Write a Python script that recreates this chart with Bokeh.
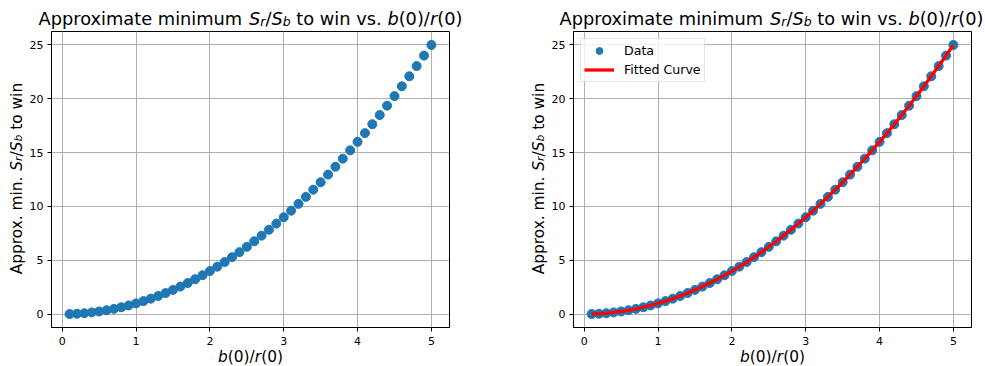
import math
from bokeh.plotting import figure
from bokeh.layouts import row, column
from bokeh.models import Range1d, Label, Legend
from bokeh.embed import file_html
from bokeh.resources import INLINE

# ---- data ----
ratio_x = [0.1, 0.2, 0.3, 0.4, 0.5, 0.6, 0.7, 0.8, 0.9, 1.0,
           1.1, 1.2, 1.3, 1.4, 1.5, 1.6, 1.7, 1.8, 1.9, 2.0,
           2.1, 2.2, 2.3, 2.4, 2.5, 2.6, 2.7, 2.8, 2.9, 3.0,
           3.1, 3.2, 3.3, 3.4, 3.5, 3.6, 3.7, 3.8, 3.9, 4.0,
           4.1, 4.2, 4.3, 4.4, 4.5, 4.6, 4.7, 4.8, 4.9, 5.0]
min_strength = [0.01, 0.04, 0.09, 0.16, 0.25, 0.36, 0.49, 0.64, 0.81, 1.00,
                1.21, 1.44, 1.69, 1.96, 2.25, 2.56, 2.89, 3.24, 3.61, 4.00,
                4.41, 4.84, 5.29, 5.76, 6.25, 6.76, 7.29, 7.84, 8.41, 9.00,
                9.61, 10.24, 10.89, 11.56, 12.25, 12.96, 13.69, 14.44, 15.21, 16.00,
                16.81, 17.64, 18.49, 19.36, 20.25, 21.16, 22.09, 23.04, 24.01, 25.00]
fitted_curve = [0.01, 0.04, 0.09, 0.16, 0.25, 0.36, 0.49, 0.64, 0.81, 1.00,
                1.21, 1.44, 1.69, 1.96, 2.25, 2.56, 2.89, 3.24, 3.61, 4.00,
                4.41, 4.84, 5.29, 5.76, 6.25, 6.76, 7.29, 7.84, 8.41, 9.00,
                9.61, 10.24, 10.89, 11.56, 12.25, 12.96, 13.69, 14.44, 15.21, 16.00,
                16.81, 17.64, 18.49, 19.36, 20.25, 21.16, 22.09, 23.04, 24.01, 25.00]
x_ticks = [0, 1, 2, 3, 4, 5]
y_ticks = [0, 5, 10, 15, 20, 25]

FONT = "DejaVu Sans"
BLUE = "#1f77b4"

# DejaVu Sans advance widths (units per em = 2048)
ADV = {' ': 651, '(': 799, ')': 799, '.': 651, '/': 690, '0': 1303,
       'A': 1401, 'S': 1300, 'a': 1255, 'b': 1300, 'e': 1260, 'i': 569,
       'm': 1995, 'n': 1298, 'o': 1253, 'p': 1300, 'r': 842, 's': 1067,
       't': 803, 'u': 1298, 'v': 1212, 'w': 1675, 'x': 1212}


def text_width(s, size):
    return sum(ADV.get(c, 1250) for c in s) / 2048.0 * size


def rich_text(p, segs, x, y, size, angle=0.0):
    """Draw (text, style, is_subscript) pieces centred on pixel position (x, y)."""
    widths = [text_width(t, size * (0.7 if sub else 1.0)) for t, st, sub in segs]
    pos = -sum(widths) / 2.0
    for (t, st, sub), w in zip(segs, widths):
        if t.strip():
            fs = size * 0.7 if sub else size
            drop = size * 0.16 if sub else 0.0
            if angle == 0:
                xo, yo = pos, -drop
            else:
                xo, yo = drop, pos
            p.add_layout(Label(x=x, y=y, x_offset=xo, y_offset=yo, text=t,
                               angle=angle, text_font=FONT, text_font_style=st,
                               text_font_size=f"{fs:.2f}px", text_align="left",
                               text_baseline="alphabetic", text_color="black"))
        pos += w


def text_fig(w, h):
    f = figure(width=w, height=h, output_backend="svg", toolbar_location=None,
               title=None, x_range=Range1d(0, w), y_range=Range1d(0, h),
               x_axis_location=None, y_axis_location=None, min_border=0)
    f.grid.visible = False
    f.outline_line_color = None
    f.background_fill_color = "white"
    f.border_fill_color = "white"
    return f


title_segs = [("Approximate minimum", "normal", False), (" ", "normal", False),
              ("S", "italic", False), ("r", "italic", True), ("/", "normal", False),
              ("S", "italic", False), ("b", "italic", True), (" ", "normal", False),
              ("to win vs.", "normal", False), (" ", "normal", False),
              ("b", "italic", False), ("(0)/", "normal", False),
              ("r", "italic", False), ("(0)", "normal", False)]
ylabel_segs = [("Approx. min.", "normal", False), (" ", "normal", False),
               ("S", "italic", False), ("r", "italic", True), ("/", "normal", False),
               ("S", "italic", False), ("b", "italic", True), (" ", "normal", False),
               ("to win", "normal", False)]
xlabel_segs = [("b", "italic", False), ("(0)/", "normal", False),
               ("r", "italic", False), ("(0)", "normal", False)]

x0, x1 = -0.145, 5.245
y0, y1 = -1.2395, 26.2495

TOP_H = 31
MID_H = 318  # height of the row holding the plots
BOT_H = 366 - TOP_H - MID_H


def make_fig(width, border_left, border_right):
    p = figure(width=width, height=MID_H, output_backend="svg", toolbar_location=None,
               title=None, x_range=Range1d(x0, x1), y_range=Range1d(y0, y1),
               min_border_left=border_left, min_border_right=border_right,
               min_border_top=0, min_border_bottom=MID_H - 296)
    p.background_fill_color = "white"
    p.border_fill_color = "white"
    p.outline_line_color = "black"
    p.outline_line_width = 1
    p.outline_line_alpha = 1.0
    for ax in (p.xaxis[0], p.yaxis[0]):
        ax.axis_line_color = "black"
        ax.axis_line_width = 1
        ax.major_tick_line_color = "black"
        ax.major_tick_in = 0
        ax.major_tick_out = 4
        ax.minor_tick_line_color = None
        ax.major_label_text_font = FONT
        ax.major_label_text_font_size = "11px"
        ax.major_label_text_color = "black"
        ax.axis_label = None
    p.xaxis.ticker = x_ticks
    p.yaxis.ticker = y_ticks
    p.xaxis.major_label_standoff = 5
    p.yaxis.major_label_standoff = 4
    p.grid.grid_line_color = "#b0b0b0"
    p.grid.grid_line_width = 1
    return p


# title row
title_row = text_fig(985, TOP_H)
rich_text(title_row, title_segs, 250, 13, 17.8)
rich_text(title_row, title_segs, 771, 13, 17.8)

# y-label strips (centred on the plot frames)
ylab_center = MID_H - (179 - TOP_H) - 10
ylab1 = text_fig(26, MID_H)
rich_text(ylab1, ylabel_segs, 16, ylab_center, 15.4, angle=math.pi / 2)
ylab2 = text_fig(28, MID_H)
rich_text(ylab2, ylabel_segs, 18, ylab_center, 15.4, angle=math.pi / 2)

# plots
p1 = make_fig(494, 25, 71)
p1.scatter(ratio_x, min_strength, size=9, fill_color=BLUE, line_color=BLUE)

p2 = make_fig(437, 25, 14)
r_data = p2.scatter(ratio_x, min_strength, size=9, fill_color=BLUE, line_color=BLUE)
r_fit = p2.line(ratio_x, fitted_curve, line_color="red", line_width=3.3)

legend = Legend(items=[("Data", [r_data]), ("Fitted Curve", [r_fit])],
                location="top_left", margin=7, padding=3, spacing=2,
                glyph_width=30, glyph_height=17, label_height=17,
                label_standoff=10, label_text_font=FONT,
                label_text_font_size="12.6px", label_text_color="black",
                border_line_color="#cccccc", border_line_width=1,
                background_fill_color="white", background_fill_alpha=0.8)
p2.add_layout(legend)

# x-label row
xlab_row = text_fig(985, BOT_H)
rich_text(xlab_row, xlabel_segs, 250, BOT_H - 7, 15.4)
rich_text(xlab_row, xlabel_segs, 772, BOT_H - 7, 15.4)

layout = column(title_row, row(ylab1, p1, ylab2, p2), xlab_row)
open("out.html", "w").write(file_html(layout, INLINE))
